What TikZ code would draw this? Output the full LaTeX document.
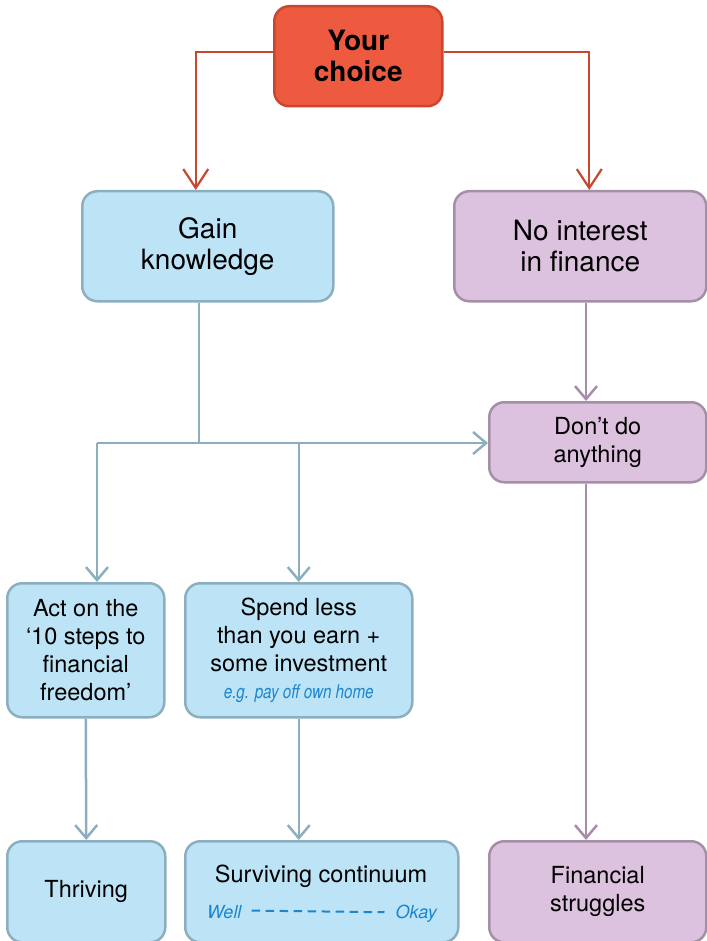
\documentclass[tikz,border=0pt]{standalone}
\usepackage{fontspec}
\usepackage{graphicx}
\setmainfont{TeX Gyre Heros}
\usetikzlibrary{arrows.meta}

\definecolor{redfill}{HTML}{EE5A40}
\definecolor{redline}{HTML}{C8472F}
\definecolor{bluefill}{HTML}{BDE4F6}
\definecolor{blueline}{HTML}{8CAFC0}
\definecolor{purplefill}{HTML}{DCC2DE}
\definecolor{purpleline}{HTML}{A68DA8}
\definecolor{notecol}{HTML}{1A86CF}

% narrow italic for the small blue notes
\newcommand{\notetext}[1]{\scalebox{0.8}[1]{#1}}

\begin{document}
\begin{tikzpicture}[x=1pt,y=-1pt,
  box/.style={rounded corners=15pt, line width=2.5pt, inner sep=0pt,
              align=center, anchor=north west},
  redbox/.style={box, fill=redfill, draw=redline},
  bluebox/.style={box, fill=bluefill, draw=blueline},
  purplebox/.style={box, fill=purplefill, draw=purpleline},
  bigtext/.style={font=\fontsize{28}{31}\selectfont},
  boldtext/.style={font=\fontsize{28}{31}\selectfont\bfseries},
  midtext/.style={font=\fontsize{23.5}{28}\selectfont},
  note/.style={font=\fontsize{18}{20}\selectfont\itshape, text=notecol, inner sep=0pt},
  redarrow/.style={draw=redline, line width=2.2pt,
                   -{Straight Barb[length=19pt,width=25pt]}},
  bluearrow/.style={draw=blueline, line width=2.5pt,
                    -{Straight Barb[length=13pt,width=22pt]}},
  purplearrow/.style={draw=purpleline, line width=2.5pt,
                      -{Straight Barb[length=13pt,width=22pt]}},
  dashline/.style={draw=notecol, line width=2pt, dash pattern=on 8.5pt off 5.5pt}
]
\useasboundingbox (0,0) rectangle (706,941);

% boxes
\node[redbox, boldtext, minimum width=168pt, minimum height=100pt] (yc) at (273,5) {Your\\choice};
\node[bluebox, bigtext, minimum width=251pt, minimum height=110pt] (gain) at (81,190) {Gain\\knowledge};
\node[purplebox, bigtext, minimum width=252pt, minimum height=110pt] (noint) at (453,190) {No interest\\in finance};
\node[purplebox, midtext, minimum width=217pt, minimum height=80pt] (dont) at (488,401) {Don’t do\\anything};
\node[bluebox, midtext, minimum width=157pt, minimum height=134pt] (act) at (6,582) {Act on the\\‘10 steps to\\financial\\freedom’};
\node[bluebox, midtext, minimum width=227pt, minimum height=134pt] (spend) at (184,582)
  {Spend less\\than you earn +\\some investment\\[-1pt]{\fontsize{19}{20}\selectfont\itshape\color{notecol}\notetext{e.g. pay off own home}}};
\node[bluebox, midtext, minimum width=158pt, minimum height=101pt] (thr) at (6,840) {Thriving};
\node[bluebox, minimum width=273pt, minimum height=101pt] (surv) at (184,840) {};
\node[purplebox, midtext, minimum width=217pt, minimum height=101pt] (strug) at (488,840) {Financial\\struggles};

% surviving continuum contents
\node[midtext, anchor=base, inner sep=0pt] (survtxt) at (321,882) {Surviving continuum};
\node[note, anchor=base west] (well) at (207,918) {Well};
\node[note, anchor=base east] (okay) at (437,918) {Okay};
\draw[dashline] ([xshift=10pt,yshift=1pt]well.east) -- ([xshift=-11pt,yshift=1pt]okay.west);

% junction points
\coordinate (j) at (199,443);
\coordinate (jl) at (97,443);
\coordinate (pc) at (586,0);

% connectors from the top choice
\draw[redarrow] ([yshift=4pt]yc.west) -| ([xshift=-12pt]gain.north);
\draw[redarrow] ([yshift=4pt]yc.east) -| ([xshift=9pt]noint.north);

% knowledge branch
\draw[bluearrow, -] (gain.south -| j) -- (j);
\draw[bluearrow] (jl) -- (j -| dont.west);
\draw[bluearrow] (jl) -- (jl |- act.north);
\draw[bluearrow] (jl -| spend.north) -- (spend.north);
\draw[bluearrow] (act.south) -- (thr.north);
\draw[bluearrow] (spend.south) -- (spend.south |- surv.north);

% no-interest branch
\draw[purplearrow] (noint.south -| pc) -- (dont.north -| pc);
\draw[purplearrow] (dont.south -| pc) -- (strug.north -| pc);
\end{tikzpicture}
\end{document}
